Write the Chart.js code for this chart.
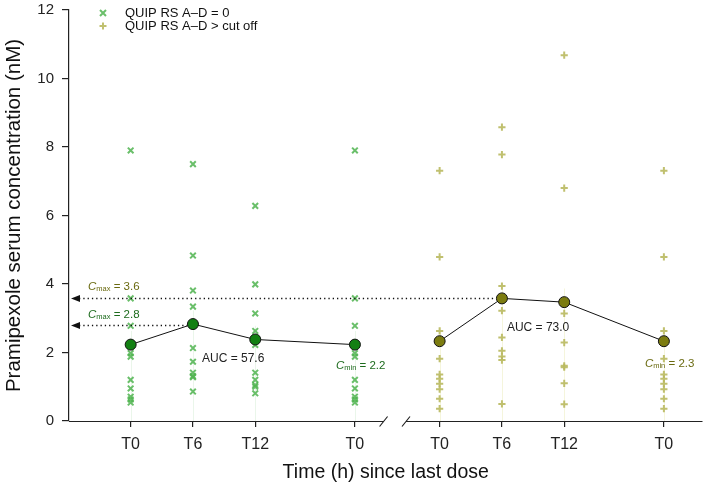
<!DOCTYPE html>
<html>
<head>
<meta charset="utf-8">
<script src="https://cdn.jsdelivr.net/npm/chart.js@4/dist/chart.umd.min.js"></script>
<style>
  html, body { margin: 0; padding: 0; background: #fff; }
  #wrap { width: 709px; height: 488px; }
</style>
</head>
<body>
<div id="wrap"><canvas id="pkChart" width="709" height="488"></canvas></div>
<script>
// time slots: T0, T6, T12, T0 (trough) for each group
var tickLabels = ["T0", "T6", "T12", "T0", "T0", "T6", "T12", "T0"];
var slotX = [0, 1, 2, 3.6, 4.96, 5.96, 6.96, 8.56];

// QUIP RS A-D = 0
var zeroT0 = [7.9, 3.58, 2.78, 1.98, 1.88, 1.2, 0.95, 0.71, 0.63, 0.54];
var zeroT6 = [7.5, 4.83, 3.81, 3.34, 2.13, 1.73, 1.41, 1.31, 1.28, 0.86];
var zeroT12 = [6.28, 3.99, 3.14, 2.63, 2.22, 1.41, 1.2, 1.05, 1.0, 0.81];
var zeroTrough = [7.9, 3.58, 2.78, 1.98, 1.88, 1.2, 0.95, 0.71, 0.63, 0.54];
var zeroMean = [2.23, 2.83, 2.38, 2.23];

// QUIP RS A-D > cut off
var cutT0 = [7.31, 4.79, 2.63, 1.82, 1.36, 1.23, 1.09, 0.93, 0.65, 0.36];
var cutT6 = [8.58, 7.78, 3.94, 3.22, 2.44, 2.05, 1.88, 1.78, 0.5];
var cutT12 = [10.68, 6.8, 3.14, 2.29, 1.61, 1.57, 1.1, 0.49];
var cutTrough = [7.31, 4.79, 2.63, 1.82, 1.36, 1.23, 1.09, 0.93, 0.65, 0.36];
var cutMean = [2.33, 3.58, 3.47, 2.33];

var legendLabels = ["QUIP RS A\u2013D = 0", "QUIP RS A\u2013D > cut off"];
var cmaxZero = 2.8, cmaxCut = 3.6, cminZero = 2.2, cminCut = 2.3;
var aucZero = "57.6", aucCut = "73.0";

var lightGreen = "rgba(80,180,80,0.85)";
var lightOlive = "rgba(185,185,95,0.9)";
var darkGreen = "#138013";
var olive = "#7c7c10";
var textGreen = "#1d6b1d";
var textOlive = "#6a6a10";
var fontFam = "'Liberation Sans', Arial, sans-serif";

function columns(cols, offset) {
  var pts = [];
  cols.forEach(function (vals, i) {
    vals.forEach(function (v) { pts.push({ x: slotX[offset + i], y: v }); });
  });
  return pts;
}
function meanPts(vals, offset) {
  return vals.map(function (v, i) { return { x: slotX[offset + i], y: v }; });
}

var zeroMeanData = meanPts(zeroMean, 0);
var cutMeanData = meanPts(cutMean, 4);

// drawn before the points: faint vertical guides
var guides = {
  id: "guides",
  beforeDatasetsDraw: function (chart) {
    var ctx = chart.ctx, xs = chart.scales.x, ys = chart.scales.y;
    ctx.save();
    ctx.lineWidth = 1;
    [[zeroMean, 0, "rgba(80,180,80,0.12)"], [cutMean, 4, "rgba(200,200,60,0.18)"]].forEach(function (g) {
      g[0].forEach(function (v, i) {
        var px = Math.round(xs.getPixelForValue(slotX[g[1] + i])) + 0.5;
        ctx.strokeStyle = g[2];
        ctx.beginPath();
        ctx.moveTo(px, ys.getPixelForValue(0));
        ctx.lineTo(px, ys.getPixelForValue(v + 0.4));
        ctx.stroke();
      });
    });
    ctx.restore();
  }
};

function subLabel(ctx, x, y, sub, rest, color) {
  ctx.fillStyle = color;
  ctx.textBaseline = "middle";
  ctx.textAlign = "left";
  ctx.font = "italic 11.5px " + fontFam;
  ctx.fillText("C", x, y);
  var w = ctx.measureText("C").width;
  ctx.font = "7.5px " + fontFam;
  ctx.fillText(sub, x + w, y + 2);
  w += ctx.measureText(sub).width;
  ctx.font = "11.5px " + fontFam;
  ctx.fillText(" " + rest, x + w, y);
}

var extras = {
  id: "extras",
  afterDraw: function (chart) {
    var ctx = chart.ctx, xs = chart.scales.x, ys = chart.scales.y, area = chart.chartArea;
    ctx.save();

    // broken x axis
    var y0 = Math.round(ys.getPixelForValue(0)) + 0.5;
    var b1 = xs.getPixelForValue(4.06), b2 = xs.getPixelForValue(4.42);
    ctx.strokeStyle = "#222";
    ctx.lineWidth = 1.2;
    ctx.beginPath();
    ctx.moveTo(area.left, y0); ctx.lineTo(b1, y0);
    ctx.moveTo(b2, y0); ctx.lineTo(area.right, y0);
    ctx.moveTo(b1 - 4, y0 + 5); ctx.lineTo(b1 + 4, y0 - 5);
    ctx.moveTo(b2 - 4, y0 + 5); ctx.lineTo(b2 + 4, y0 - 5);
    ctx.stroke();

    // Cmax dotted arrows
    [[cmaxCut, slotX[5]], [cmaxZero, slotX[1]]].forEach(function (c) {
      var py = Math.round(ys.getPixelForValue(c[0])) + 0.5;
      var ex = xs.getPixelForValue(c[1]) - 6;
      ctx.strokeStyle = "#111";
      ctx.lineWidth = 1.3;
      ctx.setLineDash([1.3, 3]);
      ctx.beginPath();
      ctx.moveTo(area.left + 10, py);
      ctx.lineTo(ex, py);
      ctx.stroke();
      ctx.setLineDash([]);
      ctx.fillStyle = "#111";
      ctx.beginPath();
      ctx.moveTo(area.left + 2, py);
      ctx.lineTo(area.left + 11, py - 3.5);
      ctx.lineTo(area.left + 11, py + 3.5);
      ctx.closePath();
      ctx.fill();
    });

    subLabel(ctx, area.left + 19, ys.getPixelForValue(cmaxCut) - 11, "max", "= " + cmaxCut.toFixed(1), textOlive);
    subLabel(ctx, area.left + 19, ys.getPixelForValue(cmaxZero) - 10, "max", "= " + cmaxZero.toFixed(1), textGreen);
    subLabel(ctx, xs.getPixelForValue(slotX[3]) - 19, ys.getPixelForValue(1.6), "min", "= " + cminZero.toFixed(1), textGreen);
    subLabel(ctx, xs.getPixelForValue(slotX[7]) - 19, ys.getPixelForValue(1.66), "min", "= " + cminCut.toFixed(1), textOlive);

    ctx.fillStyle = "#222";
    ctx.font = "12px " + fontFam;
    ctx.textBaseline = "middle";
    ctx.fillText("AUC = " + aucZero, xs.getPixelForValue(slotX[1]) + 9, ys.getPixelForValue(1.81));
    ctx.fillText("AUC = " + aucCut, xs.getPixelForValue(slotX[5]) + 5, ys.getPixelForValue(2.72));

    // legend
    var lx = 103;
    ctx.lineWidth = 2;
    ctx.strokeStyle = lightGreen;
    ctx.beginPath();
    ctx.moveTo(lx - 3, 10); ctx.lineTo(lx + 3, 16);
    ctx.moveTo(lx + 3, 10); ctx.lineTo(lx - 3, 16);
    ctx.stroke();
    ctx.strokeStyle = lightOlive;
    ctx.beginPath();
    ctx.moveTo(lx - 3.5, 26); ctx.lineTo(lx + 3.5, 26);
    ctx.moveTo(lx, 22.5); ctx.lineTo(lx, 29.5);
    ctx.stroke();
    ctx.fillStyle = "#111";
    ctx.font = "13px " + fontFam;
    ctx.fillText(legendLabels[0], 125, 13);
    ctx.fillText(legendLabels[1], 125, 26);

    ctx.restore();
  }
};

var ctx = document.getElementById("pkChart");

new Chart(ctx, {
  type: "scatter",
  data: {
    datasets: [
      {
        label: "mean zero",
        type: "line",
        data: zeroMeanData,
        borderColor: "#111",
        borderWidth: 1,
        backgroundColor: darkGreen,
        pointBackgroundColor: darkGreen,
        pointBorderColor: "#111",
        pointBorderWidth: 1,
        pointRadius: 5.5,
        tension: 0,
        fill: false
      },
      {
        label: "mean cut",
        type: "line",
        data: cutMeanData,
        borderColor: "#111",
        borderWidth: 1,
        backgroundColor: olive,
        pointBackgroundColor: olive,
        pointBorderColor: "#111",
        pointBorderWidth: 1,
        pointRadius: 5.5,
        tension: 0,
        fill: false
      },
      {
        label: legendLabels[0],
        data: columns([zeroT0, zeroT6, zeroT12, zeroTrough], 0),
        pointStyle: "crossRot",
        pointRadius: 4,
        borderColor: lightGreen,
        borderWidth: 2
      },
      {
        label: legendLabels[1],
        data: columns([cutT0, cutT6, cutT12, cutTrough], 4),
        pointStyle: "cross",
        pointRadius: 3.6,
        borderColor: lightOlive,
        borderWidth: 2
      }
    ]
  },
  options: {
    responsive: false,
    animation: false,
    layout: { padding: { top: 10, right: 4, left: 0, bottom: 0 } },
    plugins: {
      legend: { display: false },
      tooltip: { enabled: false }
    },
    scales: {
      x: {
        type: "linear",
        min: -0.99,
        max: 9.18,
        afterBuildTicks: function (scale) {
          scale.ticks = slotX.map(function (v) { return { value: v }; });
        },
        afterFit: function (scale) { scale.height = 67; },
        ticks: {
          autoSkip: false,
          maxRotation: 0,
          padding: 8,
          color: "#222",
          font: { size: 16, family: fontFam },
          callback: function (value, index) { return tickLabels[index]; }
        },
        grid: { display: true, drawOnChartArea: false, tickLength: 6, color: "#222", lineWidth: 1.2 },
        border: { display: false },
        title: {
          display: true,
          text: "Time (h) since last dose",
          color: "#111",
          padding: { top: 4 },
          font: { size: 19.5, family: fontFam }
        }
      },
      y: {
        min: 0,
        max: 12,
        afterFit: function (scale) {
          scale.width = 69;
          scale.paddingTop = 0;
          scale.paddingBottom = 0;
        },
        ticks: {
          stepSize: 2,
          padding: 8,
          color: "#222",
          font: { size: 15, family: fontFam }
        },
        grid: { display: true, drawOnChartArea: false, tickLength: 7, color: "#222", lineWidth: 1.2 },
        border: { display: true, color: "#222", width: 1.2 },
        title: {
          display: true,
          text: "Pramipexole serum concentration (nM)",
          color: "#111",
          padding: { top: 2, bottom: 4 },
          font: { size: 20.5, family: fontFam }
        }
      }
    }
  },
  plugins: [guides, extras]
});
</script>
</body>
</html>
